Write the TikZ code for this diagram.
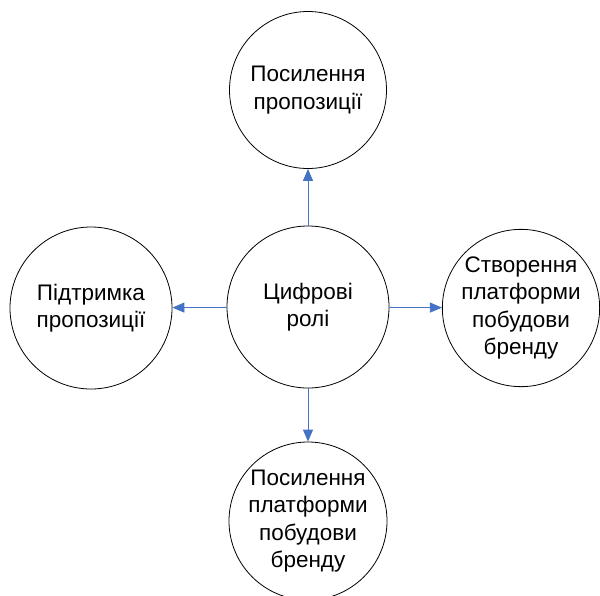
\documentclass[tikz,border=0pt]{standalone}
\usepackage{fontspec}
\setmainfont{Liberation Sans}
\usetikzlibrary{arrows.meta}
\definecolor{arrowblue}{HTML}{4472C4}
\tikzset{
  role/.style={circle,draw=black,line width=0.8pt,inner sep=0pt,align=center,
    font=\fontsize{22.5}{27.5}\selectfont},
  link/.style={draw=arrowblue,line width=0.8pt,-{Triangle[length=12pt,width=10pt]}}
}
\begin{document}
\begin{tikzpicture}[x=1pt,y=-1pt]
\useasboundingbox (0,0) rectangle (600,595);
\node[role,minimum size=162pt] (c) at (308,307) {Цифрові\\ролі};
\node[role,minimum size=157pt] (t) at (308,90) {Посилення\\пропозиції};
\node[role,minimum size=162pt] (l) at (91,308) {Підтримка\\пропозиції};
\node[role,minimum size=157pt] (r) at (521,308) {Створення\\платформи\\побудови\\бренду};
\node[role,minimum size=158pt] (b) at (308,521) {Посилення\\платформи\\побудови\\бренду};
\draw[link] (c) -- (t);
\draw[link] (c) -- (l);
\draw[link] (c) -- (r);
\draw[link] (c) -- (b);
\end{tikzpicture}
\end{document}
